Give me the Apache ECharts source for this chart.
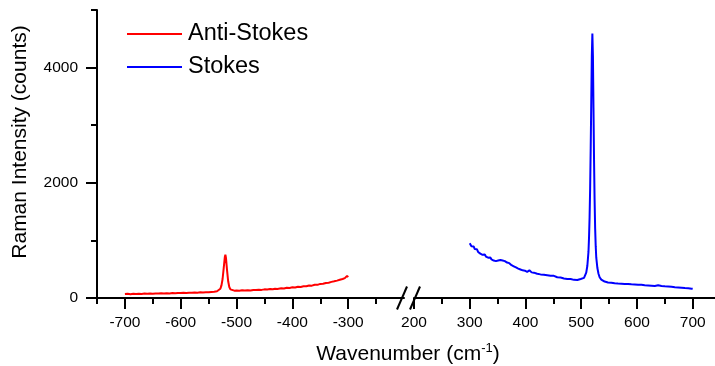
<!DOCTYPE html>
<html>
<head>
<meta charset="utf-8">
<script src="https://cdn.jsdelivr.net/npm/echarts@6/dist/echarts.min.js"></script>
<style>
  html, body { margin: 0; padding: 0; background: #fff; }
  #chart { width: 715px; height: 366px; }
</style>
</head>
<body>
<div id="chart"></div>
<script>
// 反斯托克斯 / 斯托克斯 拉曼谱 (断轴)
const redWave = [-700,-695,-690,-685,-680,-675,-670,-665,-660,-655,-650,-645,-640,-635,-630,-625,-620,-615,-610,-605,-600,-595,-590,-585,-580,-575,-570,-565,-560,-555,-550,-545,-540,-535,-532,-529,-527,-525,-523,-521,-520,-519,-517,-515,-513,-511,-508,-504,-500,-495,-490,-485,-480,-475,-470,-465,-460,-455,-450,-445,-440,-435,-431,-429,-427,-420,-415,-410,-405,-400,-395,-390,-385,-380,-375,-370,-365,-360,-355,-350,-345,-340,-335,-330,-325,-320,-315,-310,-306,-303,-302,-301,-300]
const redCounts = [68,72,66,74,70,75,71,77,74,78,75,80,77,82,79,84,80,86,83,88,85,90,87,93,90,95,92,98,96,101,99,106,108,118,130,160,220,330,520,710,750,700,480,290,190,150,135,128,130,126,133,129,136,132,140,137,145,141,150,147,156,152,160,185,158,168,165,178,175,186,183,195,192,205,203,216,214,230,228,245,246,260,266,280,290,302,316,330,345,370,385,372,362]

const blueWave = [300,301,303,305,307,309,311,313,315,317,319,321,323,325,327,329,331,333,335,337,339,341,343,345,347,349,351,353,355,357,359,361,363,365,367,369,371,373,375,377,379,381,383,385,387,389,391,393,395,397,399,401,403,405,407,409,411,413,415,418,421,424,427,430,433,436,439,442,445,448,451,454,457,460,463,466,469,472,475,478,481,484,487,490,493,496,499,502,505,507,509,511,513,514,515,516,517,518,519,520,521,522,523,524,525,526,527,529,531,533,536,539,542,545,548,551,554,557,560,563,566,569,572,575,578,581,584,587,590,593,596,599,602,605,608,611,614,617,620,623,626,629,632,635,638,641,644,647,650,653,656,659,662,665,668,671,674,677,680,683,686,689,692,695,698,700]
const blueCounts = [950,920,900,880,895,850,830,845,800,790,770,785,750,740,755,720,715,700,690,705,670,660,650,665,640,645,650,670,660,675,650,660,640,625,615,600,605,580,570,575,550,545,530,535,510,505,495,500,480,470,475,460,455,450,480,470,445,435,440,425,420,430,410,415,405,410,395,400,385,380,385,370,360,365,355,350,340,345,330,325,330,320,315,320,312,320,330,335,350,380,440,560,800,1050,1400,1900,2600,3400,4200,4590,4200,3300,2400,1700,1200,900,700,520,420,360,320,300,285,275,270,262,265,258,255,260,250,255,248,252,245,248,242,245,238,246,236,240,232,235,228,230,222,226,218,220,214,218,210,215,222,212,208,212,202,205,198,200,194,196,188,190,184,186,178,180,172,175,168,170,162,160]

// 刻度
const leftMajor = [-700,-600,-500,-400,-300]
const leftMinor = [-750,-650,-550,-450,-350,-250]
const rightMajor = [200,300,400,500,600,700]
const rightMinor = [250,350,450,550,650]
const yMajor = [0,2000,4000]
const yMinor = [1000,3000,5000]

const FONT = 'Liberation Sans, Arial, sans-serif'
const lineStyle = { color: '#000', width: 2 }
const plain = (v) => String(v)

const chart = echarts.init(document.getElementById('chart'))

function xAxisCfg(grid, min, max, ticks, len, labels) {
  return {
    type: 'value', gridIndex: grid, min: min, max: max, position: 'bottom',
    axisLine: { show: labels, onZero: false, lineStyle: lineStyle },
    axisTick: { show: true, customValues: ticks, length: len, lineStyle: lineStyle },
    axisLabel: labels
      ? { show: true, customValues: ticks, formatter: plain, margin: 17, color: '#000', fontSize: 15.5, fontFamily: FONT }
      : { show: false },
    splitLine: { show: false }
  }
}

const option = {
  animation: false,
  grid: [
    { left: 97, top: 10, bottom: 68, width: 307 },
    { left: 414, top: 10, bottom: 68, right: 0 }
  ],
  legend: {
    data: ['Anti-Stokes', 'Stokes'],
    orient: 'vertical',
    left: 127, top: 22,
    padding: 0,
    itemGap: 9,
    icon: 'rect',
    itemWidth: 55, itemHeight: 2,
    textStyle: { color: '#000', fontSize: 23.5, fontFamily: FONT, padding: [0, 0, 0, 1] }
  },
  xAxis: [
    xAxisCfg(0, -750, -200, leftMajor, 11, true),
    xAxisCfg(0, -750, -200, leftMinor, 6, false),
    xAxisCfg(1, 200, 740, rightMajor, 11, true),
    xAxisCfg(1, 200, 740, rightMinor, 6, false)
  ],
  yAxis: [
    {
      type: 'value', gridIndex: 0, min: 0, max: 5000, position: 'left',
      axisLine: { show: true, lineStyle: lineStyle },
      axisTick: { show: true, customValues: yMajor, length: 11, lineStyle: lineStyle },
      axisLabel: { customValues: yMajor, formatter: plain, margin: 19, color: '#000', fontSize: 15.5, fontFamily: FONT },
      splitLine: { show: false }
    },
    {
      type: 'value', gridIndex: 0, min: 0, max: 5000, position: 'left',
      axisLine: { show: false },
      axisTick: { show: true, customValues: yMinor, length: 6, lineStyle: lineStyle },
      axisLabel: { show: false },
      splitLine: { show: false }
    },
    {
      type: 'value', gridIndex: 1, min: 0, max: 5000, show: false
    }
  ],
  series: [
    {
      name: 'Anti-Stokes', type: 'line', xAxisIndex: 0, yAxisIndex: 0,
      data: redWave.map((w, i) => [w, redCounts[i]]),
      showSymbol: false, color: '#ff0000',
      lineStyle: { width: 2, color: '#ff0000' }
    },
    {
      name: 'Stokes', type: 'line', xAxisIndex: 2, yAxisIndex: 2,
      data: blueWave.map((w, i) => [w, blueCounts[i]]),
      showSymbol: false, color: '#0000ff',
      lineStyle: { width: 2, color: '#0000ff' }
    }
  ]
}
chart.setOption(option)

// 断轴标记 和 坐标轴标题
const xa = chart.convertToPixel({ xAxisIndex: 0 }, -200)
const xb = chart.convertToPixel({ xAxisIndex: 2 }, 200)
const y0 = chart.convertToPixel({ yAxisIndex: 0 }, 0)
const slash = (cx) => ({
  type: 'line',
  shape: { x1: cx - 5, y1: y0 + 11.5, x2: cx + 5, y2: y0 - 11.5 },
  style: { stroke: '#000', lineWidth: 2 }
})
chart.setOption({
  graphic: [
    slash(xa - 2),
    slash(xb + 1),
    {
      type: 'text', x: 20, y: 142, rotation: Math.PI / 2,
      style: { text: 'Raman Intensity (counts)', fill: '#000', fontSize: 21, fontFamily: FONT, align: 'center', verticalAlign: 'middle' }
    },
    {
      type: 'text', x: 408, y: 354,
      style: {
        text: '{a|Wavenumber (cm}{s|-1}{a|)}',
        align: 'center', verticalAlign: 'middle',
        rich: {
          a: { fill: '#000', fontSize: 21, fontFamily: FONT },
          s: { fill: '#000', fontSize: 13, fontFamily: FONT, padding: [0, 0, 12, 0] }
        }
      }
    }
  ]
})
</script>
</body>
</html>
